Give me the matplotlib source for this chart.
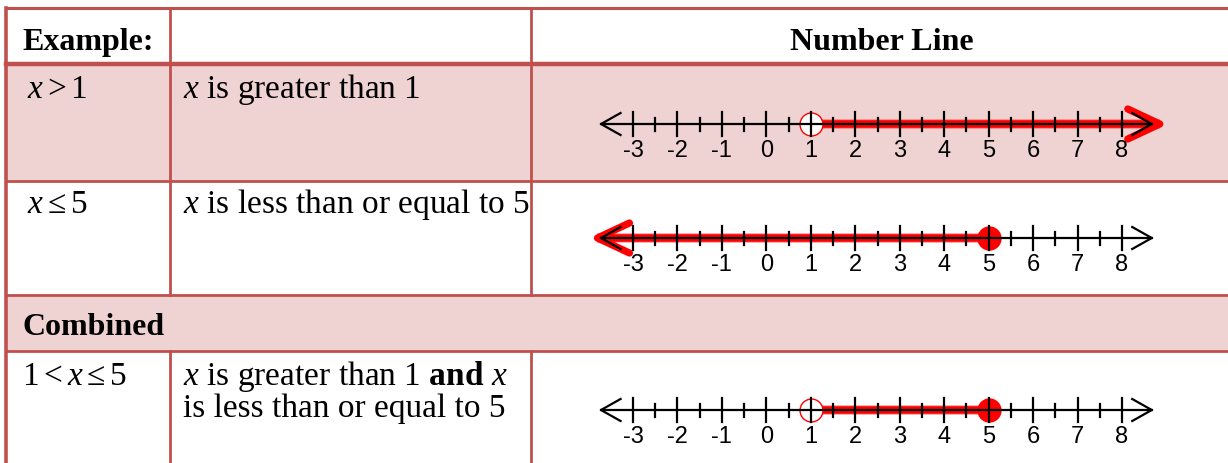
import matplotlib
matplotlib.use("Agg")
import matplotlib.pyplot as plt

plt.rcParams['font.family'] = ['Liberation Serif', 'DejaVu Serif']
plt.rcParams['mathtext.fontset'] = 'custom'
plt.rcParams['mathtext.rm'] = 'Liberation Serif'
plt.rcParams['mathtext.it'] = 'Liberation Serif:italic'
plt.rcParams['mathtext.bf'] = 'Liberation Serif:bold'

# table text
header = ["Example:", "", "Number Line"]
row_expr = [r"$x>1$", r"$x\leq5$", r"$1<x\leq5$"]
row_desc = [r"$x$ is greater than 1",
            r"$x$ is less than or equal to 5",
            r"$x$ is greater than 1 $\mathbf{and}$ $x$" + "\nis less than or equal to 5"]
combined_label = "Combined"

# number line data
tick_values = list(range(-3, 9))
minor_values = [v + 0.5 for v in range(-3, 8)]
# (start, end, start_kind, end_kind): kind is 'open', 'closed' or 'arrow'
intervals = [(1, 8.85, 'open', 'arrow'),
             (-3.8, 5, 'arrow', 'closed'),
             (1, 5, 'open', 'closed')]

border = '#C0504D'
pink = '#EFD3D2'
W, H = 1228, 463

fig = plt.figure(figsize=(W / 100, H / 100), dpi=100)
ax = fig.add_axes([0, 0, 1, 1])
ax.set_xlim(0, W)
ax.set_ylim(H, 0)
ax.axis('off')

# row bands: header, row1, row2, combined, row3
row_edges = [7.5, 64, 181, 295, 351, H]
fills = ['white', pink, 'white', pink, 'white']
for (y0, y1), c in zip(zip(row_edges[:-1], row_edges[1:]), fills):
    ax.add_patch(plt.Rectangle((6, y0), W - 6, y1 - y0, color=c, lw=0))

lw_b = 2.0
ax.plot([6, W], [7.5, 7.5], color=border, lw=2.2)
ax.plot([6, W], [64, 64], color=border, lw=3.2)
for y in row_edges[2:5]:
    ax.plot([6, W], [y, y], color=border, lw=lw_b)
ax.plot([6, 6], [7.5, H], color=border, lw=2.6)
for x in [170, 531]:
    ax.plot([x, x], [7.5, 295], color=border, lw=lw_b)
    ax.plot([x, x], [351, H], color=border, lw=lw_b)

fs = 24
fs_b = 23
ax.text(22, 50, header[0], fontsize=fs_b, fontweight='bold', va='baseline')
ax.text(882, 50, header[2], fontsize=fs_b, fontweight='bold', va='baseline', ha='center')
ax.text(22, 335, combined_label, fontsize=fs_b, fontweight='bold', va='baseline')

expr_pos = [(27, 98), (27, 213), (22, 385)]
desc_base = [98, 213, 385]
for (x, y), e in zip(expr_pos, row_expr):
    ax.text(x, y, e, fontsize=fs, va='baseline')
for y, d in zip(desc_base, row_desc):
    lines = d.split('\n')
    for i, ln in enumerate(lines):
        ax.text(183, y + 32 * i, ln, fontsize=fs, va='baseline')

# number lines
axis_y = [124, 238, 410]
px_left, px_right = 585, 1175
px_m3, px_8 = 633, 1122
unit = (px_8 - px_m3) / 11.0
xl = -3 - (px_m3 - px_left) / unit
xr = 8 + (px_right - px_8) / unit
half = 45
red = '#FF0000'

for yc, (a, b, ka, kb) in zip(axis_y, intervals):
    nax = fig.add_axes([px_left / W, (H - yc - half) / H,
                        (px_right - px_left) / W, 2 * half / H])
    nax.set_xlim(xl, xr)
    nax.set_ylim(-half, half)
    nax.axis('off')

    # red band
    nax.plot([a, b], [0, 0], color=red, lw=7, alpha=0.35, solid_capstyle='butt', zorder=1)
    nax.plot([a, b], [0, 0], color=red, lw=5.5, solid_capstyle='butt', zorder=1)
    for p, k, sgn in [(a, ka, -1), (b, kb, 1)]:
        if k == 'arrow':
            nax.plot([p - sgn * 0.72, p, p - sgn * 0.72], [15, 0, -15],
                     color=red, lw=5.2, solid_capstyle='round',
                     solid_joinstyle='round', zorder=2)
        elif k == 'open':
            nax.plot([p], [0], marker='o', ms=16.5, mfc='white', mec=red,
                     mew=1.0, zorder=3)
        else:
            nax.plot([p], [0], marker='o', ms=17.5, mfc=red, mec=red,
                     mew=0, zorder=3)

    # black axis with chevrons
    tip_l, tip_r = -3.72, 8.67
    nax.plot([tip_l, tip_r], [0, 0], color='black', lw=1.6, zorder=4)
    nax.plot([tip_l + 0.44, tip_l, tip_l + 0.44], [11, 0, -11], color='black',
             lw=1.6, zorder=4)
    nax.plot([tip_r - 0.44, tip_r, tip_r - 0.44], [11, 0, -11], color='black',
             lw=1.6, zorder=4)
    for v in tick_values:
        nax.plot([v, v], [-12, 12], color='black', lw=1.6, zorder=4)
        nax.text(v, -27, str(v), fontsize=17, family='Liberation Sans',
                 ha='center', va='center', zorder=4)
    for v in minor_values:
        nax.plot([v, v], [-6.5, 6.5], color='black', lw=1.6, zorder=4)

fig.savefig('out.png', dpi=100)
